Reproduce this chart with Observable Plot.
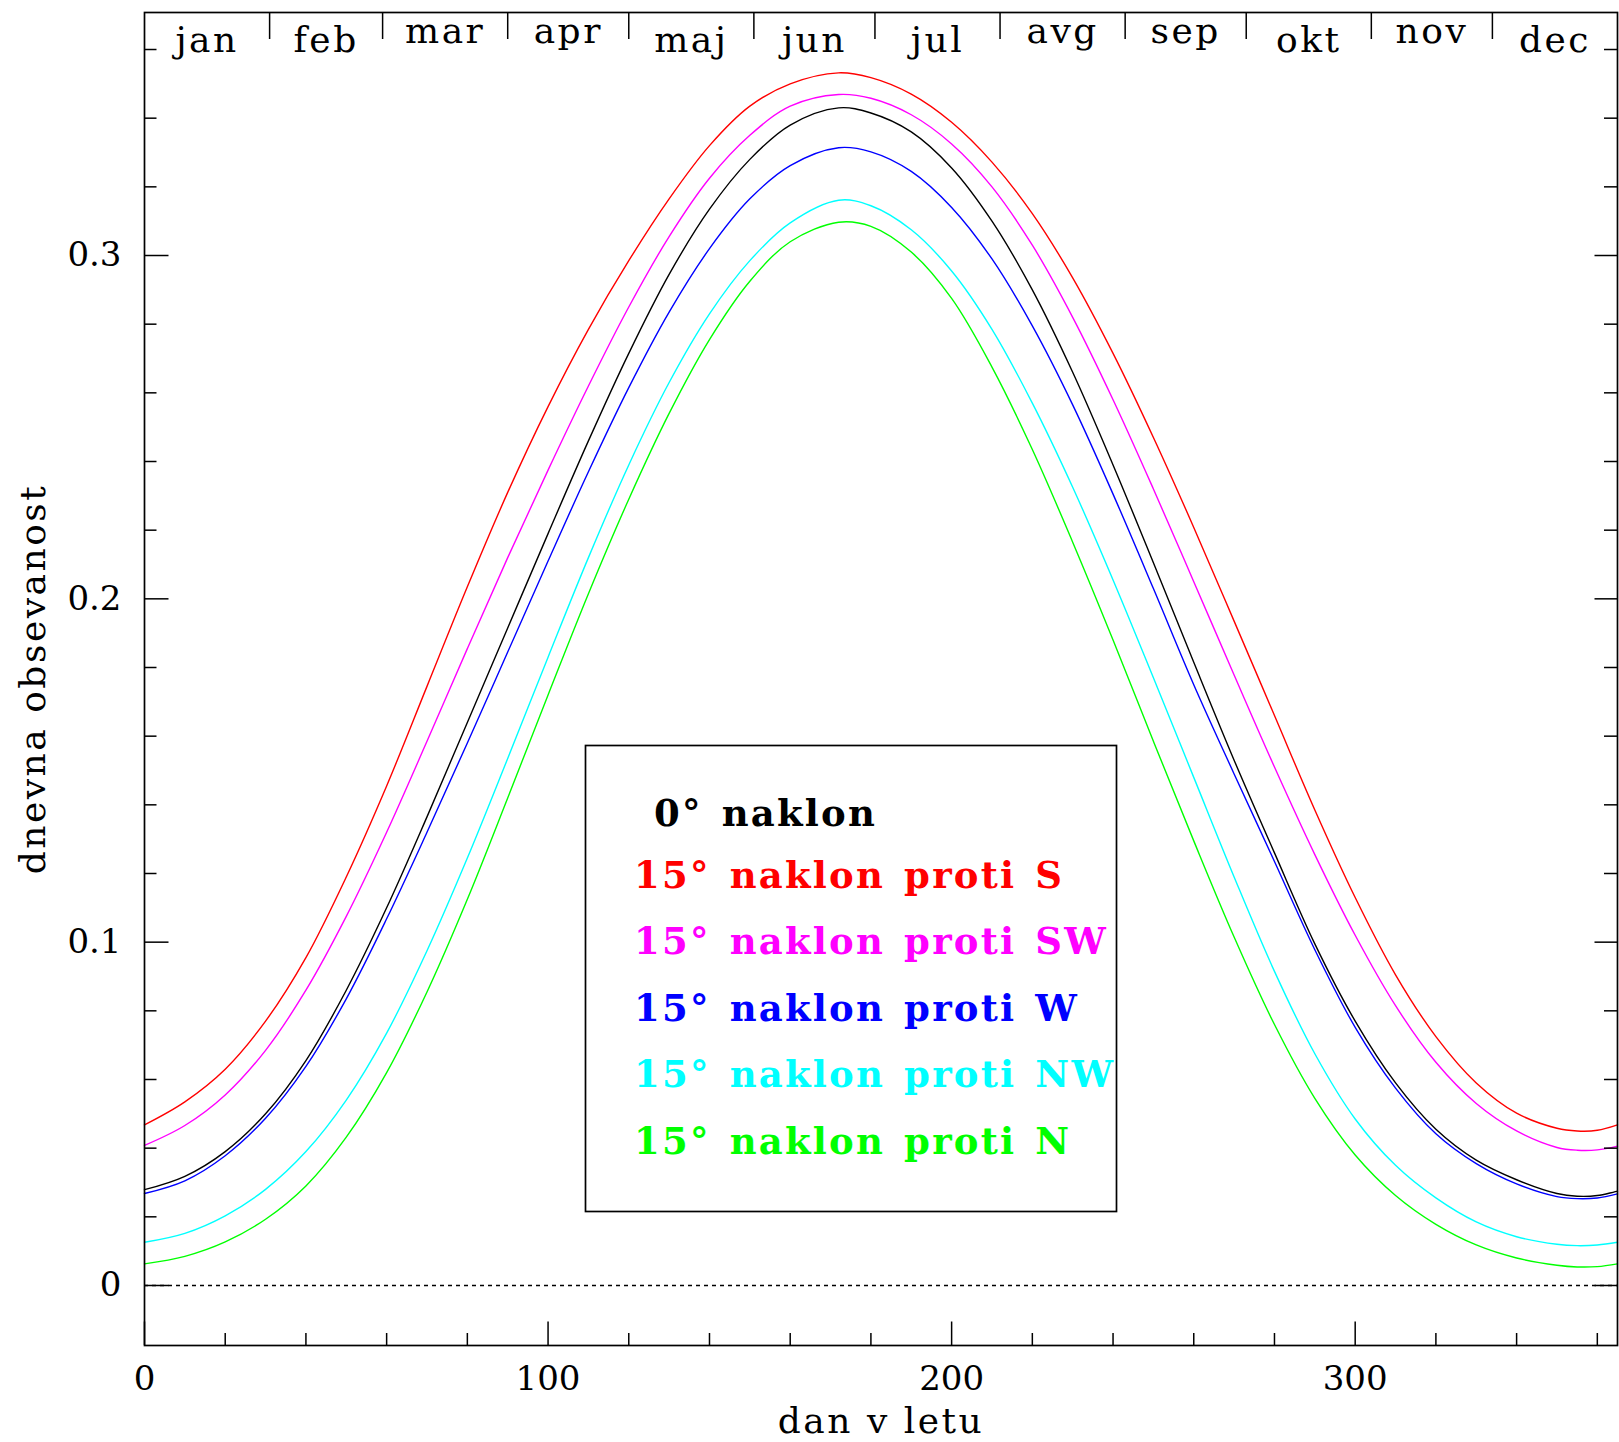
<!DOCTYPE html>
<html>
<head>
<meta charset="utf-8">
<script src="https://cdn.jsdelivr.net/npm/d3@7"></script>
<script src="https://cdn.jsdelivr.net/npm/@observablehq/plot@0.6"></script>
<style>
  html, body { margin: 0; padding: 0; background: #fff; }
  #chart { position: relative; width: 1619px; height: 1442px; }
</style>
</head>
<body>
<div id="chart"></div>
<script>
// ---------------- data ----------------
const days = [0,10,20,30,40,50,60,70,80,90,100,110,120,130,140,150,160,172,180,190,200,210,220,230,240,250,260,270,280,290,300,310,320,330,340,350,355,360,365];

const flat0  = [0.0279,0.0318,0.0390,0.0500,0.0655,0.0860,0.1100,0.1365,0.1640,0.1915,0.2190,0.2460,0.2715,0.2945,0.3135,0.3280,0.3380,0.3430,0.3415,0.3360,0.3255,0.3100,0.2900,0.2660,0.2390,0.2105,0.1815,0.1530,0.1260,0.0995,0.0770,0.0590,0.0455,0.0365,0.0308,0.0268,0.0260,0.0262,0.0275];
const tiltS  = [0.0468,0.0535,0.0630,0.0770,0.0955,0.1190,0.1455,0.1745,0.2035,0.2310,0.2560,0.2785,0.2985,0.3165,0.3320,0.3435,0.3500,0.3532,0.3518,0.3470,0.3388,0.3272,0.3122,0.2935,0.2715,0.2470,0.2208,0.1935,0.1660,0.1385,0.1130,0.0905,0.0725,0.0590,0.0502,0.0458,0.0450,0.0452,0.0468];
const tiltSW = [0.0408,0.0466,0.0555,0.0685,0.0860,0.1075,0.1320,0.1585,0.1855,0.2120,0.2375,0.2620,0.2850,0.3055,0.3225,0.3350,0.3435,0.3469,0.3458,0.3410,0.3325,0.3200,0.3030,0.2820,0.2580,0.2320,0.2050,0.1778,0.1510,0.1255,0.1020,0.0815,0.0650,0.0530,0.0450,0.0402,0.0394,0.0395,0.0406];
const tiltW  = [0.0268,0.0305,0.0378,0.0487,0.0638,0.0835,0.1068,0.1320,0.1580,0.1845,0.2110,0.2370,0.2615,0.2835,0.3020,0.3165,0.3262,0.3314,0.3302,0.3245,0.3140,0.2990,0.2795,0.2565,0.2305,0.2030,0.1750,0.1490,0.1235,0.0978,0.0752,0.0575,0.0442,0.0355,0.0296,0.0259,0.0253,0.0255,0.0267];
const tiltNW = [0.0126,0.0152,0.0203,0.0280,0.0390,0.0540,0.0735,0.0975,0.1245,0.1535,0.1830,0.2120,0.2390,0.2630,0.2830,0.2985,0.3095,0.3161,0.3145,0.3075,0.2955,0.2785,0.2570,0.2325,0.2055,0.1770,0.1480,0.1190,0.0915,0.0675,0.0485,0.0350,0.0255,0.0185,0.0142,0.0120,0.0116,0.0118,0.0126];
const tiltN  = [0.0063,0.0085,0.0127,0.0193,0.0290,0.0432,0.0620,0.0855,0.1125,0.1420,0.1720,0.2015,0.2290,0.2540,0.2755,0.2925,0.3040,0.3097,0.3085,0.3010,0.2875,0.2675,0.2435,0.2165,0.1880,0.1585,0.1295,0.1015,0.0760,0.0545,0.0380,0.0262,0.0178,0.0118,0.0080,0.0059,0.0054,0.0055,0.0063];

const seriesNames  = ["0° naklon", "15° naklon proti S", "15° naklon proti SW", "15° naklon proti W", "15° naklon proti NW", "15° naklon proti N"];
const seriesColors = ["#000000", "#ff0000", "#ff00ff", "#0000ff", "#00ffff", "#00ff00"];
const seriesValues = [flat0, tiltS, tiltSW, tiltW, tiltNW, tiltN];

const monthNames  = ["jan","feb","mar","apr","maj","jun","jul","avg","sep","okt","nov","dec"];
const monthBounds = [0,31,59,90,120,151,181,212,243,273,304,334,365];

const xTickValues = [0, 100, 200, 300];
const xTickLabels = ["0", "100", "200", "300"];
const xMinorTicks = [20,40,60,80,120,140,160,180,220,240,260,280,320,340,360];
const yTickValues = [0, 0.1, 0.2, 0.3];
const yTickLabels = ["0", "0.1", "0.2", "0.3"];
const yMinorTicks = [0.02,0.04,0.06,0.08,0.12,0.14,0.16,0.18,0.22,0.24,0.26,0.28,0.32,0.34,0.36];

const xLabel = "dan v letu";
const yLabel = "dnevna obsevanost";

// ---------------- build ----------------
const rows = [];
seriesNames.forEach((name, s) => {
  days.forEach((d, i) => rows.push({series: name, day: d, value: seriesValues[s][i]}));
});
// draw order: black drawn last (on top of blue)
const drawOrder = [5, 4, 3, 2, 1, 0].map(i => seriesNames[i]);
rows.sort((a, b) => drawOrder.indexOf(a.series) - drawOrder.indexOf(b.series));

const months = monthNames.map((m, i) => ({name: m, mid: (monthBounds[i] + monthBounds[i + 1]) / 2}));
const tall = /[bdfhijklt]/;
const monthsTall = months.filter(m => tall.test(m.name));
const monthsShort = months.filter(m => !tall.test(m.name));

const W = 1619, H = 1442, mL = 144, mR = 2, mT = 12, mB = 97;
const pw = W - mL - mR, ph = H - mT - mB;
const serif = "'DejaVu Serif', 'Liberation Serif', serif";
const tickStyle = {stroke: "#000", strokeWidth: 1.5};

const plot = Plot.plot({
  width: W, height: H,
  marginLeft: mL, marginRight: mR, marginTop: mT, marginBottom: mB,
  style: {fontFamily: serif, fontSize: "34px", color: "#000", background: "#fff", overflow: "visible"},
  x: {domain: [0, 365], axis: null},
  y: {domain: [-0.01748, 0.37078], axis: null},
  color: {domain: seriesNames, range: seriesColors},
  marks: [
    Plot.ruleY([0], {stroke: "#000", strokeWidth: 1.3, strokeDasharray: "4,4"}),
    Plot.line(rows, {x: "day", y: "value", z: "series", stroke: "series", strokeWidth: 1.4, curve: "catmull-rom"}),
    Plot.frame({stroke: "#000", strokeWidth: 1.7}),
    // left y ticks
    Plot.tickY(yTickValues, {y: d => d, insetRight: pw - 24.5, ...tickStyle}),
    Plot.tickY(yMinorTicks, {y: d => d, insetRight: pw - 12.5, ...tickStyle}),
    // right y ticks
    Plot.tickY(yTickValues, {y: d => d, insetLeft: pw - 22.5, ...tickStyle}),
    Plot.tickY(yMinorTicks, {y: d => d, insetLeft: pw - 13, ...tickStyle}),
    // bottom x ticks
    Plot.tickX(xTickValues, {x: d => d, insetTop: ph - 23.5, ...tickStyle}),
    Plot.tickX(xMinorTicks, {x: d => d, insetTop: ph - 12, ...tickStyle}),
    // month separators at top
    Plot.tickX(monthBounds.slice(1, -1), {x: d => d, insetBottom: ph - 27, ...tickStyle}),
    // tick labels
    Plot.text(yTickValues, {y: d => d, text: (d, i) => yTickLabels[i], frameAnchor: "left", dx: -23, textAnchor: "end", lineAnchor: "middle", fontSize: 34, fill: "#000"}),
    Plot.text(xTickValues, {x: d => d, text: (d, i) => xTickLabels[i], frameAnchor: "bottom", dy: 20, lineAnchor: "top", textAnchor: "middle", fontSize: 34, fill: "#000"}),
    // month labels
    Plot.text(monthsTall, {x: "mid", text: "name", frameAnchor: "top", dy: 28.2, lineAnchor: "middle", textAnchor: "middle", fontSize: 36, fill: "#000"}),
    Plot.text(monthsShort, {x: "mid", text: "name", frameAnchor: "top", dy: 19.2, lineAnchor: "middle", textAnchor: "middle", fontSize: 36, fill: "#000"}),
    // axis titles
    Plot.text([xLabel], {text: d => d, frameAnchor: "bottom", dy: 76, lineAnchor: "middle", textAnchor: "middle", fontSize: 36, fill: "#000"}),
    Plot.text([yLabel], {text: d => d, frameAnchor: "left", rotate: -90, dx: -111, lineAnchor: "middle", textAnchor: "middle", fontSize: 36, fill: "#000"})
  ]
});

const svg = d3.select(plot);
svg.selectAll("text").filter(function() { return /[a-z]/.test(this.textContent); })
  .attr("letter-spacing", "2.5px");

// legend box (inside the plot area)
const lg = svg.append("g").attr("class", "legend").attr("text-anchor", "start");
lg.append("rect")
  .attr("x", 585.5).attr("y", 745.5).attr("width", 531).attr("height", 466)
  .attr("fill", "none").attr("stroke", "#000").attr("stroke-width", 1.7);
const legendX = [654, 634, 634, 634, 634, 634];
const legendBaselines = [825.7, 888.3, 954, 1021, 1087.3, 1154.3];
seriesNames.forEach((name, i) => {
  lg.append("text")
    .attr("x", legendX[i]).attr("y", legendBaselines[i])
    .attr("text-anchor", "start")
    .attr("fill", seriesColors[i])
    .attr("font-family", "'DejaVu Serif', serif")
    .attr("font-weight", "bold")
    .attr("font-size", 37)
    .attr("letter-spacing", "2.2px")
    .attr("word-spacing", "4px")
    .style("white-space", "pre")
    .text(name);
});

document.getElementById("chart").appendChild(plot);
</script>
</body>
</html>
